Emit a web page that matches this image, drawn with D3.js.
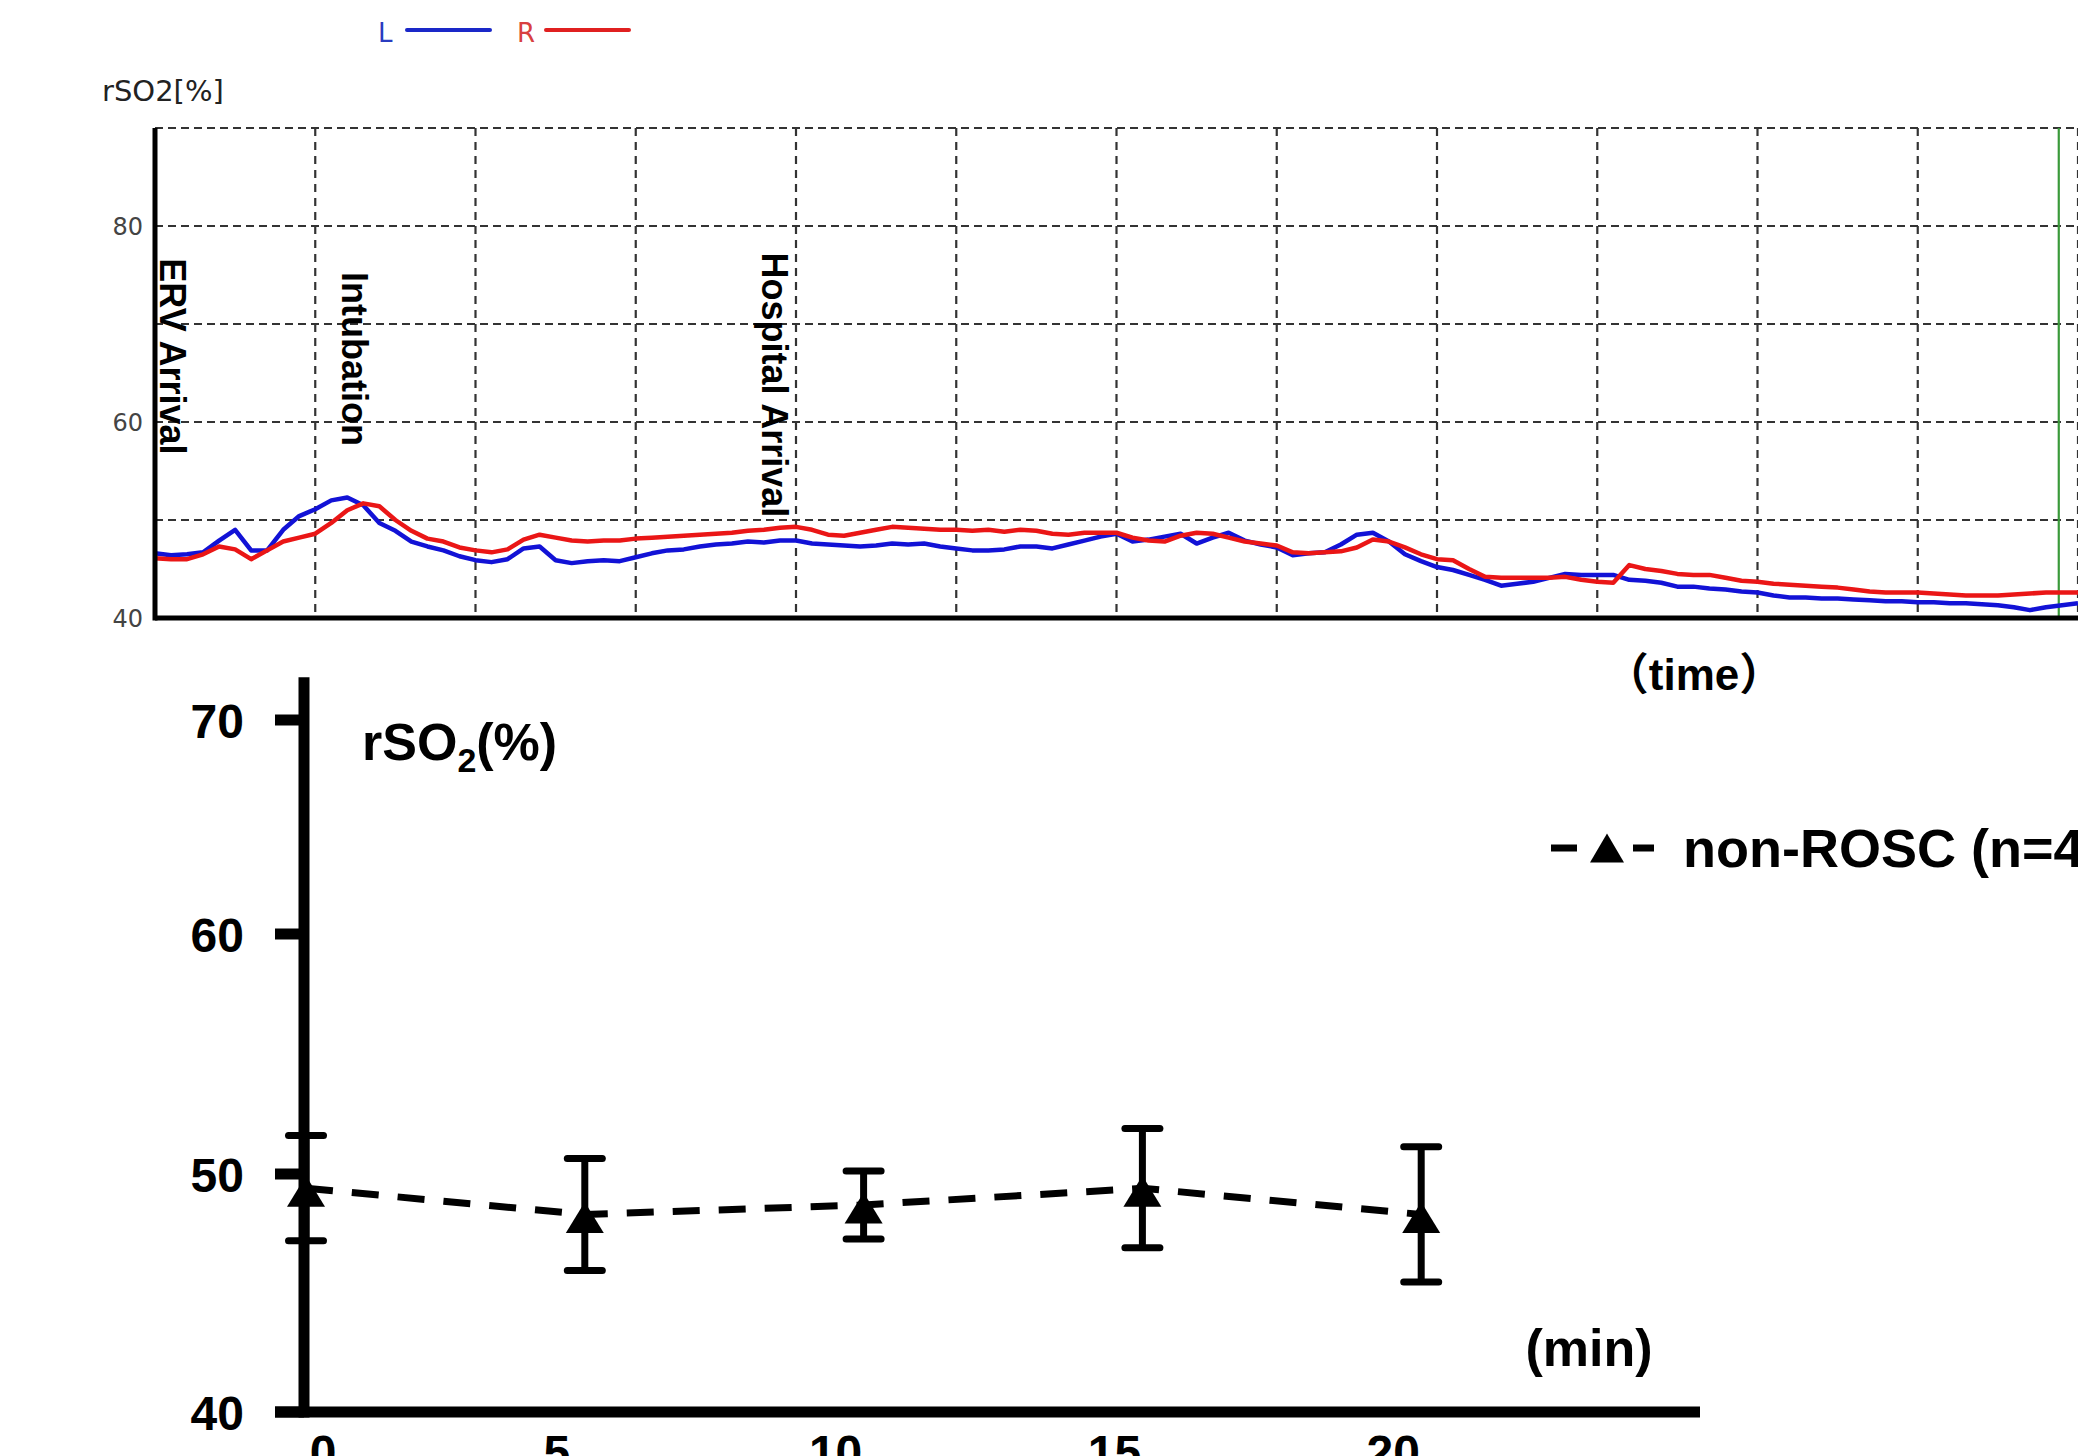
<!DOCTYPE html>
<html>
<head>
<meta charset="utf-8">
<script src="https://cdn.jsdelivr.net/npm/d3@7"></script>
<style>
  body { margin: 0; background: #fff; }
  svg { display: block; }
</style>
</head>
<body>
<script>
// ---- top panel: monitor trace, one reading every 0.1 grid column ----
var traceStep = 0.1;
var leftTrace = [
  46.6, 46.4, 46.5, 46.7, 47.9, 49.0, 46.9, 46.9, 49.0, 50.4,
  51.1, 52.0, 52.3, 51.5, 49.7, 48.9, 47.8, 47.3, 46.9, 46.3,
  45.9, 45.7, 46.0, 47.1, 47.3, 45.9, 45.6, 45.8, 45.9, 45.8,
  46.2, 46.6, 46.9, 47.0, 47.3, 47.5, 47.6, 47.8, 47.7, 47.9,
  47.9, 47.6, 47.5, 47.4, 47.3, 47.4, 47.6, 47.5, 47.6, 47.3,
  47.1, 46.9, 46.9, 47.0, 47.3, 47.3, 47.1, 47.5, 47.9, 48.3,
  48.6, 47.8, 48.0, 48.3, 48.6, 47.6, 48.2, 48.7, 47.9, 47.5,
  47.2, 46.4, 46.6, 46.7, 47.5, 48.5, 48.7, 47.8, 46.5, 45.8,
  45.2, 44.9, 44.4, 43.9, 43.3, 43.5, 43.7, 44.1, 44.5, 44.4,
  44.4, 44.4, 43.9, 43.8, 43.6, 43.2, 43.2, 43.0, 42.9, 42.7,
  42.6, 42.3, 42.1, 42.1, 42.0, 42.0, 41.9, 41.8, 41.7, 41.7,
  41.6, 41.6, 41.5, 41.5, 41.4, 41.3, 41.1, 40.8, 41.1, 41.3,
  41.5
];
var rightTrace = [
  46.1, 46.0, 46.0, 46.5, 47.3, 47.0, 46.0, 46.9, 47.8, 48.2,
  48.6, 49.7, 51.0, 51.7, 51.4, 50.0, 48.9, 48.1, 47.8, 47.2,
  46.9, 46.7, 47.0, 48.0, 48.5, 48.2, 47.9, 47.8, 47.9, 47.9,
  48.1, 48.2, 48.3, 48.4, 48.5, 48.6, 48.7, 48.9, 49.0, 49.2,
  49.3, 49.0, 48.5, 48.4, 48.7, 49.0, 49.3, 49.2, 49.1, 49.0,
  49.0, 48.9, 49.0, 48.8, 49.0, 48.9, 48.6, 48.5, 48.7, 48.7,
  48.7, 48.2, 47.9, 47.8, 48.4, 48.7, 48.6, 48.2, 47.8, 47.6,
  47.4, 46.7, 46.6, 46.7, 46.8, 47.2, 48.0, 47.8, 47.2, 46.5,
  46.0, 45.9, 45.0, 44.2, 44.1, 44.1, 44.1, 44.1, 44.2, 43.9,
  43.7, 43.6, 45.4, 45.0, 44.8, 44.5, 44.4, 44.4, 44.1, 43.8,
  43.7, 43.5, 43.4, 43.3, 43.2, 43.1, 42.9, 42.7, 42.6, 42.6,
  42.6, 42.5, 42.4, 42.3, 42.3, 42.3, 42.4, 42.5, 42.6, 42.6,
  42.6
];
var traceTicks = [40, 60, 80];
var traceGridValues = [50, 60, 70, 80, 90];
var traceColumns = [1, 2, 3, 4, 5, 6, 7, 8, 9, 10, 11, 12];
var traceEvents = [
  { label: 'ERV Arrival', t: 0.03, v: 76.7 },
  { label: 'Intubation', t: 1.17, v: 75.3 },
  { label: 'Hospital Arrival', t: 3.79, v: 77.3 }
];
var endMarker = 11.88;

// ---- bottom panel: group mean +/- SD ----
var minutes = [0, 5, 10, 15, 20];
var meanRso2 = [49.4, 48.3, 48.7, 49.4, 48.3];
var sdRso2 = [2.2, 2.35, 1.43, 2.5, 2.84];
var yTicks = [40, 50, 60, 70];
var xTickLabels = ['0', '5', '10', '15', '20'];

var W = 2078, H = 1456;
var svg = d3.select('body').append('svg')
  .attr('width', W).attr('height', H)
  .style('font-family', '"Liberation Sans", Arial, sans-serif');

// ================= top panel =================
var tx = d3.scaleLinear().domain([0, 12]).range([155, 2078]);
var ty = d3.scaleLinear().domain([40, 90]).range([618, 128]);
var topG = svg.append('g');

topG.selectAll('.hgrid').data(traceGridValues).enter().append('line')
  .attr('class', 'hgrid')
  .attr('x1', tx(0)).attr('x2', tx(12))
  .attr('y1', function(d) { return ty(d); })
  .attr('y2', function(d) { return ty(d); })
  .attr('stroke', '#333').attr('stroke-width', 2.2)
  .attr('stroke-dasharray', '8,5');

topG.selectAll('.vgrid').data(traceColumns).enter().append('line')
  .attr('class', 'vgrid')
  .attr('x1', function(d) { return tx(d); })
  .attr('x2', function(d) { return tx(d); })
  .attr('y1', ty(90)).attr('y2', ty(40))
  .attr('stroke', '#333').attr('stroke-width', 2.2)
  .attr('stroke-dasharray', '8,6');

topG.append('line')
  .attr('x1', tx(endMarker)).attr('x2', tx(endMarker))
  .attr('y1', ty(90)).attr('y2', ty(40))
  .attr('stroke', '#3a9a3a').attr('stroke-width', 2.2);

var traceLine = d3.line()
  .x(function(d, i) { return tx(i * traceStep); })
  .y(function(d) { return ty(d); });

topG.append('path').datum(leftTrace)
  .attr('d', traceLine)
  .attr('fill', 'none').attr('stroke', '#1212d6')
  .attr('stroke-width', 4.5).attr('stroke-linejoin', 'round');
topG.append('path').datum(rightTrace)
  .attr('d', traceLine)
  .attr('fill', 'none').attr('stroke', '#ea1616')
  .attr('stroke-width', 4.5).attr('stroke-linejoin', 'round');

// axes
topG.append('line')
  .attr('x1', tx(0)).attr('x2', tx(0))
  .attr('y1', ty(90)).attr('y2', ty(40) + 2.5)
  .attr('stroke', '#000').attr('stroke-width', 5);
topG.append('line')
  .attr('x1', tx(0)).attr('x2', tx(12))
  .attr('y1', ty(40)).attr('y2', ty(40))
  .attr('stroke', '#000').attr('stroke-width', 5);

topG.selectAll('.tlabel').data(traceTicks).enter().append('text')
  .attr('class', 'tlabel')
  .attr('x', tx(0) - 12)
  .attr('y', function(d) { return ty(d) + 9; })
  .attr('text-anchor', 'end')
  .style('font-family', '"DejaVu Sans", sans-serif')
  .style('font-size', '24px').attr('fill', '#444')
  .text(function(d) { return d; });

topG.append('text')
  .attr('x', 102).attr('y', 101)
  .style('font-family', '"DejaVu Sans", sans-serif')
  .style('font-size', '29px').attr('fill', '#222')
  .text('rSO2[%]');

// event labels, reading top to bottom
topG.selectAll('.event').data(traceEvents).enter().append('text')
  .attr('class', 'event')
  .attr('transform', function(d) {
    return 'translate(' + tx(d.t) + ',' + ty(d.v) + ') rotate(90)';
  })
  .style('font-size', '36px').style('font-weight', 'bold')
  .attr('fill', '#000')
  .text(function(d) { return d.label; });

// legend
var legendTop = [
  { name: 'L', color: '#2a3cc0', line: '#1a28c8', x: 378 },
  { name: 'R', color: '#d84040', line: '#e02020', x: 517 }
];
var lg = topG.selectAll('.lg').data(legendTop).enter().append('g')
  .attr('transform', function(d) { return 'translate(' + d.x + ',0)'; });
lg.append('text')
  .attr('x', 0).attr('y', 42)
  .style('font-family', '"DejaVu Sans", sans-serif')
  .style('font-size', '26px')
  .attr('fill', function(d) { return d.color; })
  .text(function(d) { return d.name; });
lg.append('line')
  .attr('x1', 29).attr('x2', 112).attr('y1', 30).attr('y2', 30)
  .attr('stroke', function(d) { return d.line; })
  .attr('stroke-width', 4).attr('stroke-linecap', 'round');

var timeLabel = topG.append('text')
  .attr('x', 1694).attr('y', 690)
  .attr('text-anchor', 'middle')
  .style('font-size', '44px').style('font-weight', 'bold');
timeLabel.append('tspan').style('font-family', '"Noto Sans CJK JP"').text('（');
timeLabel.append('tspan').text('time');
timeLabel.append('tspan').style('font-family', '"Noto Sans CJK JP"').text('）');

// ================= bottom panel =================
var bx = d3.scaleLinear().domain([0, 25]).range([306, 1700]);
var by = d3.scaleLinear().domain([40, 50, 60, 70]).range([1412, 1174, 934, 720]);
var botG = svg.append('g');

// y axis
botG.append('line')
  .attr('x1', bx(0) - 2).attr('x2', bx(0) - 2)
  .attr('y1', by(72)).attr('y2', by(40) + 5.5)
  .attr('stroke', '#000').attr('stroke-width', 11);
botG.selectAll('.ytick').data(yTicks).enter().append('line')
  .attr('class', 'ytick')
  .attr('x1', 275).attr('x2', bx(0) - 2)
  .attr('y1', function(d) { return by(d); })
  .attr('y2', function(d) { return by(d); })
  .attr('stroke', '#000').attr('stroke-width', 11);
botG.selectAll('.ylab').data(yTicks).enter().append('text')
  .attr('class', 'ylab')
  .attr('x', 244)
  .attr('y', function(d) { return by(d) + 18; })
  .attr('text-anchor', 'end')
  .style('font-size', '48px').style('font-weight', 'bold')
  .text(function(d) { return d; });

// x axis
botG.append('line')
  .attr('x1', 275).attr('x2', bx(25))
  .attr('y1', by(40)).attr('y2', by(40))
  .attr('stroke', '#000').attr('stroke-width', 11);
botG.selectAll('.xlab').data(minutes).enter().append('text')
  .attr('class', 'xlab')
  .attr('x', function(d) { return bx(d) + (d === 0 ? 17 : -28); })
  .attr('y', by(40) + 57)
  .attr('text-anchor', 'middle')
  .style('font-size', '48px').style('font-weight', 'bold')
  .text(function(d, i) { return xTickLabels[i]; });

var yTitle = botG.append('text')
  .attr('x', 362).attr('y', 760)
  .style('font-size', '52px').style('font-weight', 'bold');
yTitle.append('tspan').text('rSO');
yTitle.append('tspan').attr('dy', 12).style('font-size', '34px').text('2');
yTitle.append('tspan').attr('dy', -12).text('(%)');

botG.append('text')
  .attr('x', 1589).attr('y', 1366)
  .attr('text-anchor', 'middle')
  .style('font-size', '52px').style('font-weight', 'bold')
  .text('(min)');

// series
var pts = minutes.map(function(m, i) {
  return { m: m, mean: meanRso2[i], sd: sdRso2[i] };
});

function triangle(w, h) {
  return 'M0,' + (-h / 2) + 'L' + (w / 2) + ',' + (h / 2) + 'L' + (-w / 2) + ',' + (h / 2) + 'Z';
}

botG.append('path').datum(pts)
  .attr('d', d3.line()
    .x(function(d) { return bx(d.m); })
    .y(function(d) { return by(d.mean); }))
  .attr('fill', 'none').attr('stroke', '#000')
  .attr('stroke-width', 7).attr('stroke-dasharray', '27,19');

var ebar = botG.selectAll('.ebar').data(pts).enter().append('g').attr('class', 'ebar');
ebar.append('line')
  .attr('x1', function(d) { return bx(d.m); })
  .attr('x2', function(d) { return bx(d.m); })
  .attr('y1', function(d) { return by(d.mean + d.sd); })
  .attr('y2', function(d) { return by(d.mean - d.sd); })
  .attr('stroke', '#000').attr('stroke-width', 7);
ebar.selectAll('.cap').data(function(d) { return [d.mean + d.sd, d.mean - d.sd].map(function(v) { return { m: d.m, v: v }; }); })
  .enter().append('line')
  .attr('x1', function(d) { return bx(d.m) - 17.5; })
  .attr('x2', function(d) { return bx(d.m) + 17.5; })
  .attr('y1', function(d) { return by(d.v); })
  .attr('y2', function(d) { return by(d.v); })
  .attr('stroke', '#000').attr('stroke-width', 7).attr('stroke-linecap', 'round');
ebar.append('path')
  .attr('d', triangle(38, 31))
  .attr('transform', function(d) { return 'translate(' + bx(d.m) + ',' + (by(d.mean) + 3) + ')'; })
  .attr('fill', '#000');

// legend (runs off the right edge, as in the source figure)
var lgB = botG.append('g');
lgB.append('line').attr('x1', 1551).attr('x2', 1577).attr('y1', 848).attr('y2', 848)
  .attr('stroke', '#000').attr('stroke-width', 7);
lgB.append('line').attr('x1', 1633).attr('x2', 1654).attr('y1', 848).attr('y2', 848)
  .attr('stroke', '#000').attr('stroke-width', 7);
lgB.append('path').attr('d', triangle(34, 29))
  .attr('transform', 'translate(1607,848)').attr('fill', '#000');
lgB.append('text')
  .attr('x', 1683).attr('y', 867)
  .style('font-size', '54px').style('font-weight', 'bold')
  .text('non-ROSC (n=4)');
</script>
</body>
</html>
